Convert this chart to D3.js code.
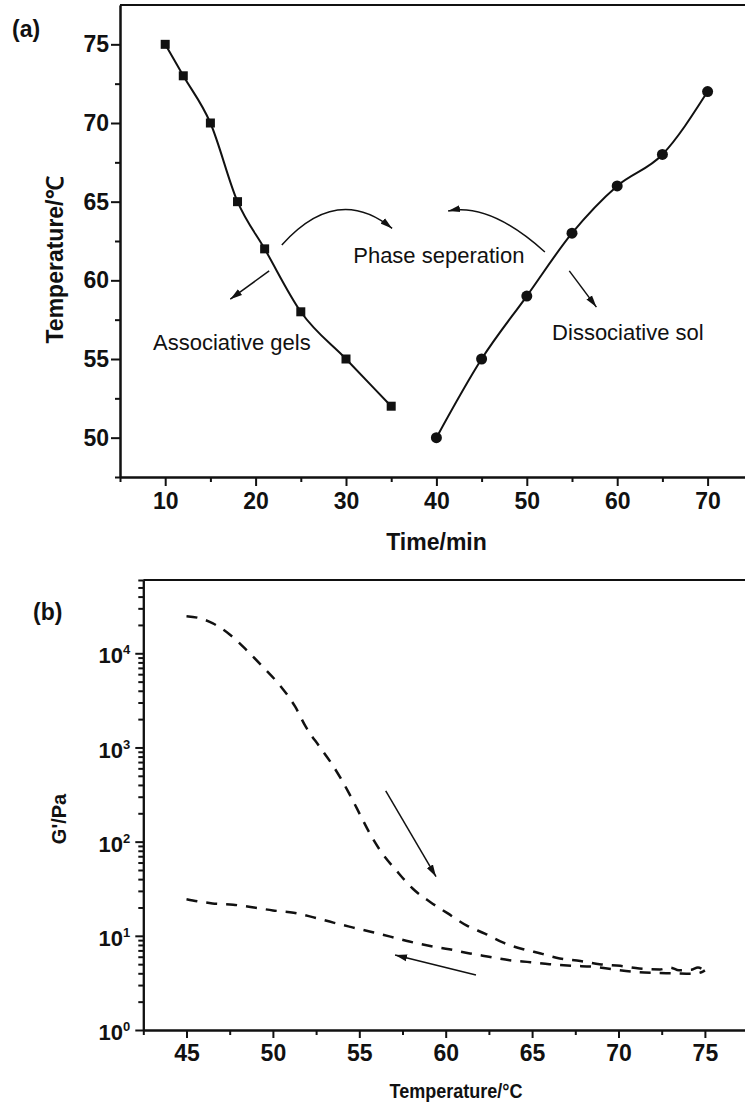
<!DOCTYPE html>
<html>
<head>
  <meta charset="utf-8">
  <title>Phase separation</title>
  <script src="https://cdn.jsdelivr.net/npm/d3@7"></script>
  <style type="text/css">
    body { margin: 0; background: #fff; }
    svg text { font-family: "Liberation Sans", Arial, sans-serif; fill: #111; }
    .axis path, .axis line { stroke: #111; stroke-width: 2; fill: none; }
    .axis text { font-size: 23px; font-weight: bold; }
    .minor text { display: none; }
  </style>
</head>
<body>
<script>
  // panel (a): temperature vs time
  var squareTime = [10, 12, 15, 18, 21, 25, 30, 35];
  var squareTemp = [75, 73, 70, 65, 62, 58, 55, 52];
  var circleTime = [40, 45, 50, 55, 60, 65, 70];
  var circleTemp = [50, 55, 59, 63, 66, 68, 72];
  var timeTicks = [10, 20, 30, 40, 50, 60, 70];
  var tempTicks = [50, 55, 60, 65, 70, 75];

  // panel (b): G' vs temperature (heating and cooling)
  var heatT = [45, 45.8, 46.5, 47.5, 48.5, 49.4, 50.4, 51.3, 51.9, 52.7, 53.5, 54.3, 55.2, 55.6, 56.2, 57.2, 58.1, 59.1, 60.1, 61.2, 62.3, 63.3, 64.5, 65.5, 66.6, 67.8, 68.9, 70.1, 71.2, 72.4, 73.0, 73.5, 74.2, 74.6, 75];
  var heatG = [24800, 23500, 20900, 15850, 10700, 7240, 4570, 2690, 1660, 1020, 631, 355, 170, 123, 81, 48, 31.6, 22.9, 17.4, 12.9, 10.5, 8.5, 7.2, 6.5, 5.75, 5.4, 5.0, 4.8, 4.5, 4.4, 4.6, 4.3, 4.35, 4.6, 4.25];
  var coolT = [45, 46.5, 47.7, 48.9, 50, 51.2, 52.3, 53.5, 54.6, 55.6, 56.8, 57.9, 59.1, 60.2, 61.4, 62.5, 63.7, 64.9, 66, 67.4, 68.5, 69.7, 70.9, 72, 73.2, 74.3, 74.8, 75];
  var coolG = [24.5, 22.1, 21.4, 20.0, 18.6, 17.6, 15.8, 13.8, 12.3, 11.1, 9.8, 8.7, 7.8, 7.2, 6.5, 6.0, 5.5, 5.25, 5.0, 4.8, 4.7, 4.4, 4.15, 4.05, 4.0, 3.95, 4.1, 4.3];
  var tempBTicks = [45, 50, 55, 60, 65, 70, 75];
  var gTicks = [1, 10, 100, 1000, 10000];

  var w = 745;
  var h = 1106;

  var svg = d3.select("body").append("svg")
              .attr("width", w)
              .attr("height", h);

  var defs = svg.append("defs");
  defs.append("marker")
      .attr("id", "head")
      .attr("viewBox", "0 -4 12 8")
      .attr("refX", 12)
      .attr("refY", 0)
      .attr("markerUnits", "userSpaceOnUse")
      .attr("markerWidth", 12)
      .attr("markerHeight", 8)
      .attr("orient", "auto")
      .append("path")
      .attr("d", "M0,-3.5L12,0L0,3.5Z")
      .attr("fill", "#111");

  // ---------- panel (a) ----------
  var xA = d3.scaleLinear().domain([5, 75]).range([120, 752.8]);
  var yA = d3.scaleLinear().domain([47.5, 77.5]).range([477, 5]);

  var minorTime = d3.range(5, 76, 10);
  var minorTemp = [47.5, 52.5, 57.5, 62.5, 67.5, 72.5];

  svg.append("g").attr("class", "axis minor")
     .attr("transform", "translate(0," + yA.range()[0] + ")")
     .call(d3.axisBottom(xA).tickValues(minorTime).tickSize(5).tickSizeOuter(0));
  svg.append("g").attr("class", "axis")
     .attr("transform", "translate(0," + yA.range()[0] + ")")
     .call(d3.axisBottom(xA).tickValues(timeTicks).tickSize(9).tickPadding(7).tickSizeOuter(0));

  svg.append("g").attr("class", "axis minor")
     .attr("transform", "translate(" + xA.range()[0] + ",0)")
     .call(d3.axisLeft(yA).tickValues(minorTemp).tickSize(5).tickSizeOuter(0));
  svg.append("g").attr("class", "axis")
     .attr("transform", "translate(" + xA.range()[0] + ",0)")
     .call(d3.axisLeft(yA).tickValues(tempTicks).tickSize(9).tickPadding(2).tickSizeOuter(0));

  svg.append("line")
     .attr("x1", xA.range()[0]).attr("x2", w)
     .attr("y1", yA.range()[1]).attr("y2", yA.range()[1])
     .attr("stroke", "#111").attr("stroke-width", 2);

  var lineA = d3.line()
                .x(function (d) { return xA(d[0]); })
                .y(function (d) { return yA(d[1]); })
                .curve(d3.curveMonotoneX);

  var squares = d3.zip(squareTime, squareTemp);
  var circles = d3.zip(circleTime, circleTemp);

  svg.append("path").datum(squares)
     .attr("d", lineA).attr("fill", "none").attr("stroke", "#111").attr("stroke-width", 2);
  svg.append("path").datum(circles)
     .attr("d", lineA).attr("fill", "none").attr("stroke", "#111").attr("stroke-width", 2);

  svg.selectAll("rect.sq").data(squares).enter().append("rect")
     .attr("class", "sq")
     .attr("x", function (d) { return xA(d[0]) - 4.5; })
     .attr("y", function (d) { return yA(d[1]) - 4.5; })
     .attr("width", 9).attr("height", 9)
     .attr("fill", "#111");

  svg.selectAll("circle.ci").data(circles).enter().append("circle")
     .attr("class", "ci")
     .attr("cx", function (d) { return xA(d[0]); })
     .attr("cy", function (d) { return yA(d[1]); })
     .attr("r", 5.5)
     .attr("fill", "#111");

  // annotation arrows, in data units
  var arcs = [
    [[22.9, 62.25], [29.0, 66.15], [35.1, 63.3]],
    [[52.0, 61.8], [45.9, 64.95], [41.3, 64.4]]
  ];
  arcs.forEach(function (a) {
    var p = d3.path();
    p.moveTo(xA(a[0][0]), yA(a[0][1]));
    p.quadraticCurveTo(xA(a[1][0]), yA(a[1][1]), xA(a[2][0]), yA(a[2][1]));
    svg.append("path").attr("d", p.toString())
       .attr("fill", "none").attr("stroke", "#111").attr("stroke-width", 1.5)
       .attr("marker-end", "url(#head)");
  });

  var arrowsA = [
    [[21.5, 60.6], [17.2, 58.8]],
    [[54.7, 60.6], [57.7, 58.3]]
  ];
  arrowsA.forEach(function (a) {
    svg.append("line")
       .attr("x1", xA(a[0][0])).attr("y1", yA(a[0][1]))
       .attr("x2", xA(a[1][0])).attr("y2", yA(a[1][1]))
       .attr("stroke", "#111").attr("stroke-width", 1.5)
       .attr("marker-end", "url(#head)");
  });

  var notes = [
    { text: "Phase seperation", t: 30.8, v: 61.1 },
    { text: "Associative gels", t: 8.65, v: 55.56 },
    { text: "Dissociative sol", t: 52.8, v: 56.2 }
  ];
  svg.selectAll("text.note").data(notes).enter().append("text")
     .attr("class", "note")
     .attr("x", function (d) { return xA(d.t); })
     .attr("y", function (d) { return yA(d.v); })
     .attr("font-size", 22)
     .text(function (d) { return d.text; });

  svg.append("text")
     .attr("transform", "translate(63,260) rotate(-90)")
     .attr("text-anchor", "middle")
     .attr("font-size", 23).attr("font-weight", "bold")
     .text("Temperature/\u2103");

  svg.append("text")
     .attr("x", 436.5).attr("y", 550)
     .attr("text-anchor", "middle")
     .attr("font-size", 23).attr("font-weight", "bold")
     .text("Time/min");

  svg.append("text")
     .attr("x", 12).attr("y", 37)
     .attr("font-size", 23).attr("font-weight", "bold")
     .text("(a)");

  // ---------- panel (b) ----------
  var xB = d3.scaleLinear().domain([42.5, 77.5]).range([143.3, 748.1]);
  var yB = d3.scaleLog().domain([1, 60000]).range([1030, 580]);

  var minorB = d3.range(42.5, 78, 5);
  var minorG = [];
  gTicks.forEach(function (p) {
    for (var k = 2; k <= 9; k++) {
      if (p * k <= 60000) minorG.push(p * k);
    }
  });

  svg.append("g").attr("class", "axis minor")
     .attr("transform", "translate(0," + yB.range()[0] + ")")
     .call(d3.axisBottom(xB).tickValues(minorB).tickSize(5).tickSizeOuter(0));
  svg.append("g").attr("class", "axis")
     .attr("transform", "translate(0," + yB.range()[0] + ")")
     .call(d3.axisBottom(xB).tickValues(tempBTicks).tickSize(8).tickPadding(7).tickSizeOuter(0));

  svg.append("g").attr("class", "axis minor")
     .attr("transform", "translate(" + xB.range()[0] + ",0)")
     .call(d3.axisLeft(yB).tickValues(minorG).tickSize(5).tickSizeOuter(0));
  var gAxis = svg.append("g").attr("class", "axis")
     .attr("transform", "translate(" + xB.range()[0] + ",0)")
     .call(d3.axisLeft(yB).tickValues(gTicks).tickSize(8).tickPadding(5).tickSizeOuter(0).tickFormat(function () { return ""; }));

  gAxis.selectAll(".tick text")
       .attr("dy", "0.42em")
       .each(function (d) {
         var t = d3.select(this);
         t.append("tspan").attr("font-size", 22).text("10");
         t.append("tspan").attr("font-size", 13).attr("dy", -9).text(Math.round(Math.log10(d)));
       });

  svg.append("line")
     .attr("x1", xB.range()[0]).attr("x2", w)
     .attr("y1", yB.range()[1]).attr("y2", yB.range()[1])
     .attr("stroke", "#111").attr("stroke-width", 2);

  var lineB = d3.line()
                .x(function (d) { return xB(d[0]); })
                .y(function (d) { return yB(d[1]); })
                .curve(d3.curveMonotoneX);

  [d3.zip(heatT, heatG), d3.zip(coolT, coolG)].forEach(function (s) {
    svg.append("path").datum(s)
       .attr("d", lineB)
       .attr("fill", "none")
       .attr("stroke", "#111")
       .attr("stroke-width", 2.5)
       .attr("stroke-dasharray", "11,9");
  });

  var arrowsB = [
    [[56.53, 345], [59.44, 42.5]],
    [[61.75, 3.84], [57.07, 6.25]]
  ];
  arrowsB.forEach(function (a) {
    svg.append("line")
       .attr("x1", xB(a[0][0])).attr("y1", yB(a[0][1]))
       .attr("x2", xB(a[1][0])).attr("y2", yB(a[1][1]))
       .attr("stroke", "#111").attr("stroke-width", 1.5)
       .attr("marker-end", "url(#head)");
  });

  svg.append("text")
     .attr("transform", "translate(66,819) rotate(-90)")
     .attr("text-anchor", "middle")
     .attr("font-size", 20).attr("font-weight", "bold")
     .text("G'/Pa");

  svg.append("text")
     .attr("x", 456).attr("y", 1098)
     .attr("text-anchor", "middle")
     .attr("font-size", 20).attr("font-weight", "bold")
     .attr("textLength", 133).attr("lengthAdjust", "spacingAndGlyphs")
     .text("Temperature/\u00b0C");

  svg.append("text")
     .attr("x", 33).attr("y", 620)
     .attr("font-size", 23).attr("font-weight", "bold")
     .text("(b)");
</script>
</body>
</html>
